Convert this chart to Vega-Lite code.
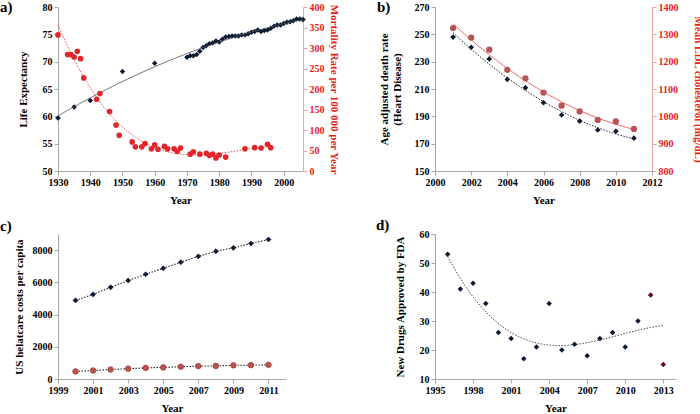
{
  "$schema": "https://vega.github.io/schema/vega-lite/v6.json",
  "padding": {"left": 0, "top": 0, "right": 0, "bottom": 0},
  "bounds": "flush",
  "columns": 2,
  "spacing": {"row": 63, "column": 132},
  "background": "white",
  "datasets": {
    "le": [
      {"year": 1930, "v": 59.7}, {"year": 1935, "v": 61.7}, {"year": 1940, "v": 62.9}, {"year": 1950, "v": 68.2}, {"year": 1960, "v": 69.7},
      {"year": 1970, "v": 70.8}, {"year": 1971, "v": 71.1}, {"year": 1972, "v": 71.1}, {"year": 1973, "v": 71.3}, {"year": 1974, "v": 71.9},
      {"year": 1975, "v": 72.6}, {"year": 1976, "v": 72.9}, {"year": 1977, "v": 73.3}, {"year": 1978, "v": 73.4}, {"year": 1979, "v": 73.8},
      {"year": 1980, "v": 73.6}, {"year": 1981, "v": 74.1}, {"year": 1982, "v": 74.5}, {"year": 1983, "v": 74.6}, {"year": 1984, "v": 74.7},
      {"year": 1985, "v": 74.7}, {"year": 1986, "v": 74.7}, {"year": 1987, "v": 74.9}, {"year": 1988, "v": 74.9}, {"year": 1989, "v": 75.1},
      {"year": 1990, "v": 75.4}, {"year": 1991, "v": 75.5}, {"year": 1992, "v": 75.8}, {"year": 1993, "v": 75.5}, {"year": 1994, "v": 75.7},
      {"year": 1995, "v": 75.8}, {"year": 1996, "v": 76.1}, {"year": 1997, "v": 76.5}, {"year": 1998, "v": 76.7}, {"year": 1999, "v": 76.7},
      {"year": 2000, "v": 77.0}, {"year": 2001, "v": 77.2}, {"year": 2002, "v": 77.3}, {"year": 2003, "v": 77.5}, {"year": 2004, "v": 77.8},
      {"year": 2005, "v": 77.8}, {"year": 2006, "v": 77.7}
    ],
    "mort": [
      {"year": 1930, "m": 332}, {"year": 1933, "m": 284}, {"year": 1934, "m": 284}, {"year": 1935, "m": 278}, {"year": 1936, "m": 292},
      {"year": 1937, "m": 274}, {"year": 1938, "m": 227}, {"year": 1942, "m": 175}, {"year": 1943, "m": 189}, {"year": 1946, "m": 145},
      {"year": 1948, "m": 112}, {"year": 1949, "m": 87}, {"year": 1953, "m": 71}, {"year": 1954, "m": 59}, {"year": 1956, "m": 59},
      {"year": 1957, "m": 67}, {"year": 1959, "m": 54}, {"year": 1960, "m": 64}, {"year": 1961, "m": 53}, {"year": 1963, "m": 60},
      {"year": 1964, "m": 54}, {"year": 1966, "m": 54}, {"year": 1967, "m": 48}, {"year": 1968, "m": 56}, {"year": 1971, "m": 41},
      {"year": 1972, "m": 47}, {"year": 1974, "m": 41}, {"year": 1976, "m": 43}, {"year": 1977, "m": 38}, {"year": 1978, "m": 41},
      {"year": 1979, "m": 32}, {"year": 1980, "m": 39}, {"year": 1982, "m": 34}, {"year": 1988, "m": 54}, {"year": 1991, "m": 57},
      {"year": 1993, "m": 56}, {"year": 1995, "m": 65}, {"year": 1996, "m": 57}
    ],
    "heart": [
      {"year": 2001, "death": 248, "ldl": 1323}, {"year": 2002, "death": 240.5, "ldl": 1288}, {"year": 2003, "death": 232, "ldl": 1244},
      {"year": 2004, "death": 217, "ldl": 1170}, {"year": 2005, "death": 211, "ldl": 1139}, {"year": 2006, "death": 200, "ldl": 1087},
      {"year": 2007, "death": 191, "ldl": 1039}, {"year": 2008, "death": 186.5, "ldl": 1018}, {"year": 2009, "death": 180, "ldl": 987},
      {"year": 2010, "death": 179, "ldl": 981}, {"year": 2011, "death": 174, "ldl": 954}
    ],
    "cost": [
      {"year": 2000, "s": "a", "v": 4880}, {"year": 2001, "s": "a", "v": 5250}, {"year": 2002, "s": "a", "v": 5690}, {"year": 2003, "s": "a", "v": 6110},
      {"year": 2004, "s": "a", "v": 6500}, {"year": 2005, "s": "a", "v": 6870}, {"year": 2006, "s": "a", "v": 7250}, {"year": 2007, "s": "a", "v": 7610},
      {"year": 2008, "s": "a", "v": 7930}, {"year": 2009, "s": "a", "v": 8140}, {"year": 2010, "s": "a", "v": 8410}, {"year": 2011, "s": "a", "v": 8660},
      {"year": 2000, "s": "b", "v": 470}, {"year": 2001, "s": "b", "v": 530}, {"year": 2002, "s": "b", "v": 590}, {"year": 2003, "s": "b", "v": 640},
      {"year": 2004, "s": "b", "v": 690}, {"year": 2005, "s": "b", "v": 720}, {"year": 2006, "s": "b", "v": 760}, {"year": 2007, "s": "b", "v": 800},
      {"year": 2008, "s": "b", "v": 810}, {"year": 2009, "s": "b", "v": 850}, {"year": 2010, "s": "b", "v": 860}, {"year": 2011, "s": "b", "v": 880}
    ],
    "drugs": [
      {"year": 1996, "n": 53, "k": "fit"}, {"year": 1997, "n": 41, "k": "fit"}, {"year": 1998, "n": 43, "k": "fit"}, {"year": 1999, "n": 36, "k": "fit"},
      {"year": 2000, "n": 26, "k": "fit"}, {"year": 2001, "n": 24, "k": "fit"}, {"year": 2002, "n": 17, "k": "fit"}, {"year": 2003, "n": 21, "k": "fit"},
      {"year": 2004, "n": 36, "k": "fit"}, {"year": 2005, "n": 20, "k": "fit"}, {"year": 2006, "n": 22, "k": "fit"}, {"year": 2007, "n": 18, "k": "fit"},
      {"year": 2008, "n": 24, "k": "fit"}, {"year": 2009, "n": 26, "k": "fit"}, {"year": 2010, "n": 21, "k": "fit"}, {"year": 2011, "n": 30, "k": "fit"},
      {"year": 2012, "n": 39, "k": "new"}, {"year": 2013, "n": 15, "k": "new"}
    ]
  },
  "concat": [
    {
      "width": 245, "height": 164,
      "title": {"text": "a)", "dx": -58, "dy": 17},
      "encoding": {
        "x": {"field": "year", "type": "quantitative", "scale": {"domain": [1930, 2006], "nice": false},
              "axis": {"values": [1930, 1940, 1950, 1960, 1970, 1980, 1990, 2000], "format": "d", "title": "Year", "titlePadding": 7}}
      },
      "layer": [
        {
          "data": {"name": "le"},
          "encoding": {
            "y": {"field": "v", "type": "quantitative", "scale": {"domain": [50, 80], "nice": false, "zero": false},
                  "axis": {"values": [50, 55, 60, 65, 70, 75, 80], "title": "Life Expectancy", "titlePadding": 14}}
          },
          "layer": [
            {"mark": {"type": "point", "shape": "diamond", "filled": true, "size": 30, "color": "#0b1a33", "opacity": 1}},
            {"transform": [{"regression": "v", "on": "year", "method": "poly", "order": 2}],
             "mark": {"type": "line", "color": "#555555", "strokeWidth": 0.8}}
          ]
        },
        {
          "data": {"name": "mort"},
          "encoding": {
            "y": {"field": "m", "type": "quantitative", "scale": {"domain": [0, 400], "nice": false},
                  "axis": {"orient": "right", "values": [0, 50, 100, 150, 200, 250, 300, 350, 400], "format": "d", "title": "Mortality Rate per 100 000 per Year",
                           "labelColor": "#e8211d", "titleColor": "#e8211d", "domainColor": "#f2a0a0", "tickColor": "#f2a0a0", "titlePadding": 4}}
          },
          "layer": [
            {"mark": {"type": "point", "shape": "circle", "filled": true, "size": 32, "color": "#e3262b", "opacity": 1}},
            {"transform": [{"regression": "m", "on": "year", "method": "poly", "order": 3}],
             "mark": {"type": "line", "color": "#e8211d", "strokeWidth": 0.8, "strokeDash": [1.5, 1.5]}}
          ]
        }
      ],
      "resolve": {"scale": {"y": "independent"}}
    },
    {
      "width": 217, "height": 164,
      "title": {"text": "b)", "dx": -58, "dy": 17},
      "data": {"name": "heart"},
      "encoding": {
        "x": {"field": "year", "type": "quantitative", "scale": {"domain": [2000, 2012], "nice": false, "zero": false},
              "axis": {"values": [2000, 2002, 2004, 2006, 2008, 2010, 2012], "format": "d", "title": "Year", "titlePadding": 7}}
      },
      "layer": [
        {
          "encoding": {
            "y": {"field": "death", "type": "quantitative", "scale": {"domain": [150, 270], "nice": false, "zero": false},
                  "axis": {"values": [150, 170, 190, 210, 230, 250, 270], "title": ["Age adjusted death rate", "(Heart Disease)"], "titlePadding": 12}}
          },
          "layer": [
            {"mark": {"type": "point", "shape": "diamond", "filled": true, "size": 32, "color": "#0b1a33", "opacity": 1}},
            {"transform": [{"regression": "death", "on": "year", "method": "poly", "order": 2}],
             "mark": {"type": "line", "color": "#222222", "strokeWidth": 1, "strokeDash": [1.5, 1.5]}}
          ]
        },
        {
          "encoding": {
            "y": {"field": "ldl", "type": "quantitative", "scale": {"domain": [800, 1400], "nice": false, "zero": false},
                  "axis": {"orient": "right", "values": [800, 900, 1000, 1100, 1200, 1300, 1400], "format": "d", "title": "Mean LDL cholesterol (mg/dL)",
                           "labelColor": "#e8211d", "titleColor": "#e8211d", "domainColor": "#f2a0a0", "tickColor": "#f2a0a0", "titlePadding": 14}}
          },
          "layer": [
            {"transform": [{"regression": "ldl", "on": "year", "method": "poly", "order": 2}],
             "mark": {"type": "line", "color": "#ec6a6a", "strokeWidth": 1}},
            {"mark": {"type": "point", "shape": "circle", "filled": true, "size": 40, "color": "#b9535a", "opacity": 1}}
          ]
        }
      ],
      "resolve": {"scale": {"y": "independent"}}
    },
    {
      "width": 228, "height": 145,
      "title": {"text": "c)", "dx": -58, "dy": 4},
      "data": {"name": "cost"},
      "encoding": {
        "x": {"field": "year", "type": "quantitative", "scale": {"domain": [1999, 2012], "nice": false, "zero": false},
              "axis": {"values": [1999, 2001, 2003, 2005, 2007, 2009, 2011], "format": "d", "title": "Year", "titlePadding": 7}},
        "y": {"field": "v", "type": "quantitative", "scale": {"domain": [0, 9000], "nice": false},
              "axis": {"values": [0, 2000, 4000, 6000, 8000], "format": "d", "title": "US helatcare costs per capita", "titlePadding": 8}}
      },
      "layer": [
        {"mark": {"type": "line", "color": "#222222", "strokeWidth": 1.1, "strokeDash": [1.5, 1.5]},
         "encoding": {"detail": {"field": "s", "type": "nominal"}}},
        {"mark": {"type": "point", "filled": true, "opacity": 1, "strokeWidth": 0.6},
         "encoding": {
           "shape": {"field": "s", "type": "nominal", "scale": {"domain": ["a", "b"], "range": ["diamond", "circle"]}, "legend": null},
           "color": {"field": "s", "type": "nominal", "scale": {"domain": ["a", "b"], "range": ["#0b1a33", "#c0504d"]}, "legend": null},
           "size": {"field": "s", "type": "nominal", "scale": {"domain": ["a", "b"], "range": [26, 32]}, "legend": null},
           "stroke": {"field": "s", "type": "nominal", "scale": {"domain": ["a", "b"], "range": ["#0b1a33", "#8c3a38"]}, "legend": null}
         }}
      ]
    },
    {
      "width": 241, "height": 145,
      "title": {"text": "d)", "dx": -59, "dy": 8},
      "data": {"name": "drugs"},
      "encoding": {
        "x": {"field": "year", "type": "quantitative", "scale": {"domain": [1995, 2014], "nice": false, "zero": false},
              "axis": {"values": [1995, 1998, 2001, 2004, 2007, 2010, 2013], "format": "d", "title": "Year", "titlePadding": 7}},
        "y": {"field": "n", "type": "quantitative", "scale": {"domain": [10, 60], "nice": false, "zero": false},
              "axis": {"values": [10, 20, 30, 40, 50, 60], "title": "New Drugs Approved by FDA", "titlePadding": 14}}
      },
      "layer": [
        {"transform": [{"filter": "datum.k === 'fit'"}, {"regression": "n", "on": "year", "method": "poly", "order": 3, "extent": [1996, 2013]}],
         "mark": {"type": "line", "color": "#444444", "strokeWidth": 1, "strokeDash": [1.5, 1.5]}},
        {"mark": {"type": "point", "shape": "diamond", "filled": true, "size": 30, "opacity": 1},
         "encoding": {"color": {"condition": {"test": "datum.k === 'new'", "value": "#5c0a14"}, "value": "#0b1a33"}}}
      ]
    }
  ],
  "config": {
    "view": {"stroke": null},
    "axis": {
      "grid": false, "labelOverlap": false, "labelFlush": false,
      "domainColor": "#a6a6a6", "tickColor": "#a6a6a6", "tickSize": 4,
      "labelFont": "Liberation Serif", "labelFontWeight": "bold", "labelFontSize": 10, "labelColor": "#000000", "labelPadding": 2,
      "titleFont": "Liberation Serif", "titleFontWeight": "bold", "titleFontSize": 11, "titleColor": "#000000"
    },
    "title": {"font": "Liberation Serif", "fontWeight": "bold", "fontSize": 15, "color": "#000000", "anchor": "start", "offset": 0, "frame": "group"}
  }
}
